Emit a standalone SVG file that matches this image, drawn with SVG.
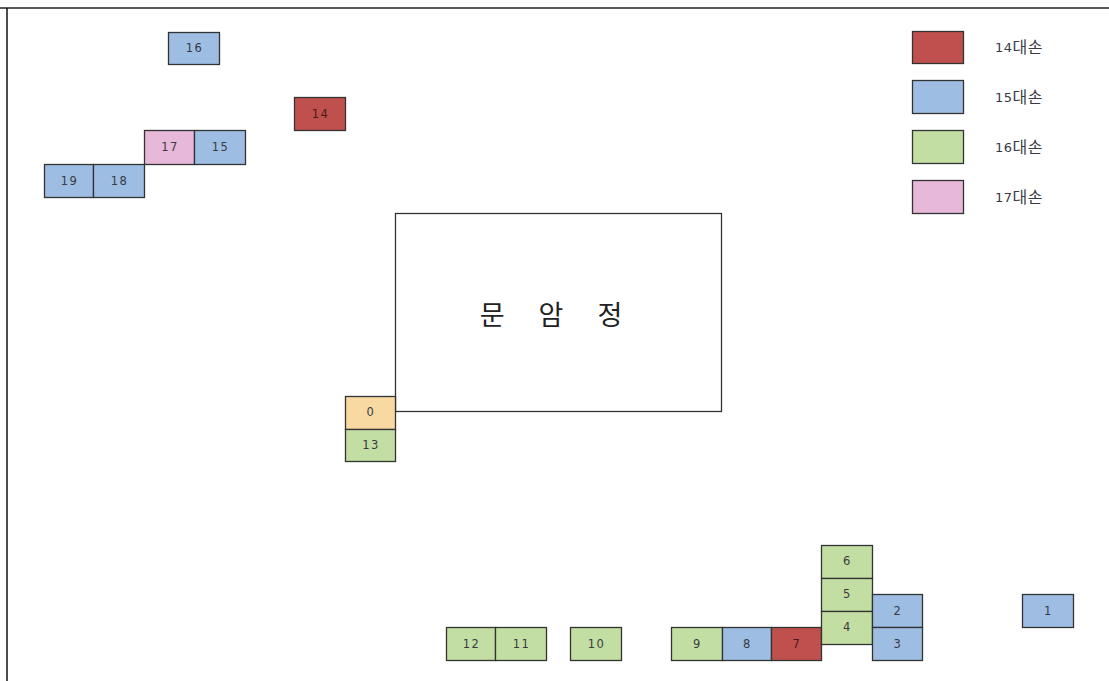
<svg xmlns="http://www.w3.org/2000/svg" width="1109" height="681" viewBox="0 0 1109 681">
<style>
.c rect{stroke:#333;stroke-width:1.3}
.r{fill:#c0504d}.b{fill:#9dbde3}.g{fill:#c3dea2}.p{fill:#e7b8d9}.o{fill:#f8d9a2}
text{font-family:"DejaVu Sans","Noto Sans CJK KR",sans-serif;font-size:11.5px;letter-spacing:1.5px;fill:#3a3a44;text-anchor:middle;dominant-baseline:central}
.lg{text-anchor:start;font-size:13px;letter-spacing:0.5px}
.h{font-size:16px}
</style>
<rect width="1109" height="681" fill="#fff"/>
<g id="frame"><line x1="0" y1="8" x2="1109" y2="8" stroke="#222" stroke-width="1.5"/><line x1="7" y1="8" x2="7" y2="681" stroke="#111" stroke-width="1.5"/></g>
<g id="main" class="c"><rect x="395.5" y="213.5" width="326" height="198" fill="#fff"/><text x="558" y="313" style="font-family:'Noto Sans CJK KR',sans-serif;font-size:27px;letter-spacing:14px;fill:#222">문 암 정</text></g>
<g class="c">
<g id="n16"><rect class="b" x="168.5" y="32.5" width="51" height="32"/><text x="194.5" y="48">16</text></g>
<g id="n14"><rect class="r" x="294.5" y="97.5" width="51" height="33"/><text x="320.5" y="114" style="fill:#4a1a1a">14</text></g>
<g id="n17"><rect class="p" x="144.5" y="130.5" width="50" height="34"/><text x="170" y="147">17</text></g>
<g id="n15"><rect class="b" x="194.5" y="130.5" width="51" height="34"/><text x="220.5" y="147">15</text></g>
<g id="n19"><rect class="b" x="44.5" y="164.5" width="49" height="33"/><text x="69.5" y="181">19</text></g>
<g id="n18"><rect class="b" x="93.5" y="164.5" width="51" height="33"/><text x="119.5" y="181">18</text></g>
<g id="n0"><rect class="o" x="345.5" y="396.5" width="50" height="33"/><text x="371" y="412">0</text></g>
<g id="n13"><rect class="g" x="345.5" y="429.5" width="50" height="32"/><text x="371" y="445">13</text></g>
<g id="n12"><rect class="g" x="446.5" y="627.5" width="49" height="33"/><text x="471.5" y="644">12</text></g>
<g id="n11"><rect class="g" x="495.5" y="627.5" width="51" height="33"/><text x="521.5" y="644">11</text></g>
<g id="n10"><rect class="g" x="570.5" y="627.5" width="51" height="33"/><text x="596.5" y="644">10</text></g>
<g id="n9"><rect class="g" x="671.5" y="627.5" width="51" height="33"/><text x="697.5" y="644">9</text></g>
<g id="n8"><rect class="b" x="722.5" y="627.5" width="49" height="33"/><text x="747.5" y="644">8</text></g>
<g id="n7"><rect class="r" x="771.5" y="627.5" width="50" height="33"/><text x="797" y="644" style="fill:#4a1a1a">7</text></g>
<g id="n6"><rect class="g" x="821.5" y="545.5" width="51" height="33"/><text x="847.5" y="561">6</text></g>
<g id="n5"><rect class="g" x="821.5" y="578.5" width="51" height="33"/><text x="847.5" y="594">5</text></g>
<g id="n4"><rect class="g" x="821.5" y="611.5" width="51" height="33"/><text x="847.5" y="627">4</text></g>
<g id="n2"><rect class="b" x="872.5" y="594.5" width="50" height="33"/><text x="898" y="611">2</text></g>
<g id="n3"><rect class="b" x="872.5" y="627.5" width="50" height="33"/><text x="898" y="644">3</text></g>
<g id="n1"><rect class="b" x="1022.5" y="594.5" width="51" height="33"/><text x="1048.5" y="611">1</text></g>
</g>
<g id="legend" class="c">
<g id="lg14"><rect class="r" x="912.5" y="31.5" width="51" height="32"/><text class="lg" x="995" y="47">14<tspan class="h">대손</tspan></text></g>
<g id="lg15"><rect class="b" x="912.5" y="80.5" width="51" height="33"/><text class="lg" x="995" y="97">15<tspan class="h">대손</tspan></text></g>
<g id="lg16"><rect class="g" x="912.5" y="130.5" width="51" height="33"/><text class="lg" x="995" y="147">16<tspan class="h">대손</tspan></text></g>
<g id="lg17"><rect class="p" x="912.5" y="180.5" width="51" height="33"/><text class="lg" x="995" y="197">17<tspan class="h">대손</tspan></text></g>
</g>
<g id="connectors"/>
</svg>
